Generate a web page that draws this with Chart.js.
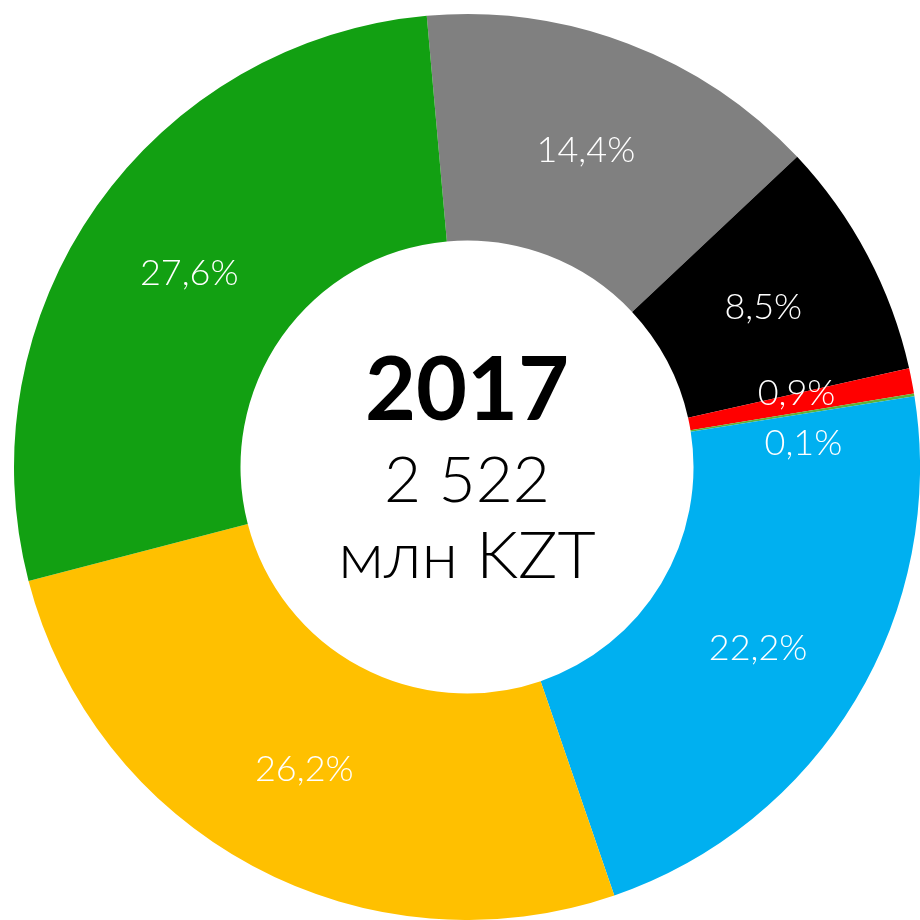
<!DOCTYPE html>
<html>
<head>
<meta charset="utf-8">
<script src="https://cdn.jsdelivr.net/npm/chart.js@4"></script>
<style>
  html,body{margin:0;padding:0;background:#fff}
  #wrap{width:920px;height:920px}
</style>
</head>
<body>
<div id="wrap"><canvas id="donut"></canvas></div>
<script>
// shares, clockwise from the top
const labels = ['Gray', 'Black', 'Red', 'Light green', 'Blue', 'Yellow', 'Green']
const shares = [14.4, 8.5, 0.9, 0.1, 22.2, 26.2, 27.6]
const shareText = ['14,4%', '8,5%', '0,9%', '0,1%', '22,2%', '26,2%', '27,6%']
const colors = ['#808080', '#000000', '#ff0000', '#5fb236', '#00b0f0', '#ffc000', '#12a012']
const centerYear = '2017'
const centerTotal = '2 522'
const centerUnit = 'млн KZT'

// small nudges so the two thin slices' labels don't collide
const labelNudge = [[-2,1],[-4,-1],[-4,-9],[1,30],[0,6],[-2,3],[0,2]]

const sliceLabels = {
  id:'sliceLabels',
  afterDatasetsDraw(chart){
    const ctx = chart.ctx
    const arcs = chart.getDatasetMeta(0).data
    ctx.save()
    ctx.fillStyle = '#fff'
    ctx.font = '300 36px Lato'
    ctx.textAlign = 'center'
    ctx.textBaseline = 'middle'
    arcs.forEach((a,i)=>{
      const p = a.tooltipPosition()
      ctx.fillText(shareText[i], p.x + labelNudge[i][0], p.y + labelNudge[i][1])
    })
    ctx.restore()
  }
}

const centerText = {
  id:'centerText',
  afterDraw(chart){
    const ctx = chart.ctx
    const a = chart.getDatasetMeta(0).data[0]
    ctx.save()
    ctx.fillStyle = '#000'
    ctx.textAlign = 'center'
    ctx.textBaseline = 'alphabetic'
    ctx.font = 'bold 88px Lato'
    ctx.fillText(centerYear, a.x, a.y - 47)
    ctx.font = '300 64px Lato'
    ctx.fillText(centerTotal, a.x, a.y + 35)
    ctx.font = '300 66px Lato'
    ctx.fillText(centerUnit, a.x, a.y + 111)
    ctx.restore()
  }
}

new Chart(document.getElementById('donut'), {
  type:'doughnut',
  data:{ labels, datasets:[{ data: shares, backgroundColor: colors, borderWidth:0 }] },
  options:{
    responsive:true, maintainAspectRatio:false, animation:false,
    rotation:-5.1, cutout:'50%',
    layout:{ padding:{ left:14, top:14, right:0, bottom:0 } },
    plugins:{ legend:{ display:false }, tooltip:{ enabled:false } }
  },
  plugins:[sliceLabels, centerText]
})
</script>
</body>
</html>
